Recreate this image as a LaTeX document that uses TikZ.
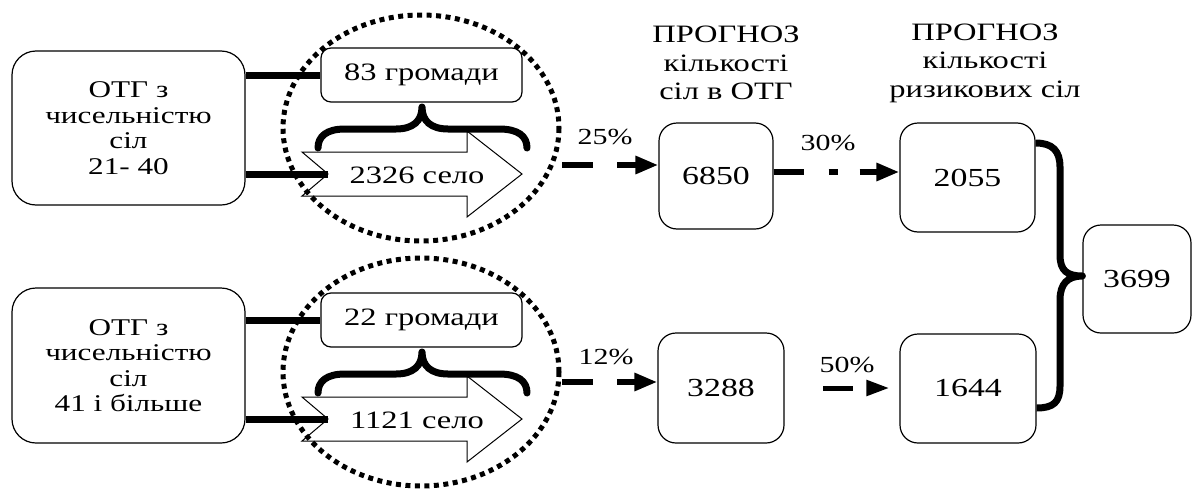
\documentclass[tikz,border=0pt]{standalone}
\usepackage{fontspec}
\setmainfont{Liberation Serif}[FakeStretch=1.3]
\usetikzlibrary{arrows.meta,calc}
\newcommand\myblockarrow[2]{%
  \draw[blockarrow] (302,#2-22) -- (467,#2-22) -- (467,#2-43) -- (522,#2) -- (467,#2+43) -- (467,#2+22) -- (302,#2+22) -- (328,#2) -- cycle;
  \coordinate (#1) at (328,#2);}
\newcommand\mybrace[1]{%
  \draw[conn,line cap=round,line join=round] (318,#1+41) .. controls (318,#1+29) and (327,#1+22) .. (345,#1+22) -- (396,#1+22) .. controls (413,#1+22) and (422,#1+14) .. (422,#1) .. controls (422,#1+14) and (431,#1+22) .. (448,#1+22) -- (499,#1+22) .. controls (518,#1+22) and (527,#1+29) .. (527,#1+41);}
\begin{document}
\begin{tikzpicture}[x=1pt,y=-1pt,
  lbox/.style={draw,line width=1.2pt,rounded corners=24pt,fill=white,minimum width=233pt,minimum height=154pt,inner sep=0pt,align=center,font=\fontsize{24}{25.5}\selectfont},
  gbox/.style={draw,line width=1.2pt,rounded corners=10pt,fill=white,minimum width=201pt,minimum height=54pt,inner sep=0pt,font=\fontsize{25}{27}\selectfont},
  nbox/.style={draw,line width=1.2pt,rounded corners=18pt,fill=white,inner sep=0pt,font=\fontsize{26}{28}\selectfont},
  heading/.style={align=center,font=\fontsize{25}{28.5}\selectfont,inner sep=0pt},
  pct/.style={font=\fontsize{23}{25}\selectfont,inner sep=0pt},
  arrtext/.style={font=\fontsize{25}{27}\selectfont,inner sep=0pt},
  conn/.style={line width=7pt},
  dotring/.style={line width=5pt,dash pattern=on 5pt off 4.5pt},
  blockarrow/.style={draw,line width=1pt,fill=white},
  flow/.style={line width=6pt,-{Triangle[length=23pt,width=17pt]}},
]
\useasboundingbox (0,0) rectangle (1193,490);
\fill[white] (0,0) rectangle (1193,490);

% left boxes
\node[lbox] (ob1) at (128.5,128) {ОТГ з\\чисельністю\\сіл\\21- 40};
\node[lbox,minimum height=155pt] (ob2) at (128.5,365.5) {ОТГ з\\чисельністю\\сіл\\41 і більше};

% groups
\node[gbox] (g1) at (421.5,75) {83 громади};
\node[gbox] (g2) at (421.5,320) {22 громади};

\myblockarrow{n1}{174}
\myblockarrow{n2}{419}
\node[arrtext] (a1) at (417,175) {2326 село};
\node[arrtext] (a2) at (417,420) {1121 село};

\mybrace{107}
\mybrace{352}

\draw[conn] (ob1.east |- g1.west) -- (g1.west);
\draw[conn] (ob1.east |- n1) -- (n1);
\draw[conn] (ob2.east |- g2.west) -- (g2.west);
\draw[conn] (ob2.east |- n2) -- (n2);

\draw[dotring] (421,128) ellipse [x radius=138, y radius=113];
\draw[dotring] (421,372) ellipse [x radius=138, y radius=114];

% headings
\node[heading] (h1) at (726,63) {ПРОГНОЗ\\кількості\\сіл в ОТГ};
\node[heading] (h2) at (985,63) {ПРОГНОЗ\\кількості\\ризикових сіл};

% number boxes
\node[nbox,minimum width=114pt,minimum height=106pt] (b6850) at (716,176) {6850};
\node[nbox,minimum width=135pt,minimum height=109pt] (b2055) at (967.5,177.5) {2055};
\node[nbox,minimum width=126pt,minimum height=110pt] (b3288) at (721,388) {3288};
\node[nbox,minimum width=136pt,minimum height=109pt] (b1644) at (968,388.5) {1644};
\node[nbox,minimum width=108pt,minimum height=108pt] (b3699) at (1137,279) {3699};

% percentages
\node[pct] (p25) at (605,137) {25\%};
\node[pct] (p30) at (828,143) {30\%};
\node[pct] (p12) at (606,357) {12\%};
\node[pct] (p50) at (847,365) {50\%};

% flows
\coordinate (s25) at (562,165);
\draw[flow,dash pattern=on 31pt off 24pt] (s25) -- (b6850.west |- s25);
\coordinate (s30) at ([yshift=4pt]b6850.east);
\draw[flow,dash pattern=on 30pt off 25pt on 9pt off 22pt on 80pt] (s30) -- (b2055.west |- s30);
\coordinate (s12) at (562,382);
\draw[flow,dash pattern=on 31pt off 24pt] (s12) -- (b3288.west |- s12);
\coordinate (s50) at (823,388);
\coordinate (e50) at ([xshift=-10pt]b1644.west |- s50);
\draw[line width=5pt,-{Triangle[length=23pt,width=15pt]},dash pattern=on 30pt off 80pt] (s50) -- (e50);

% joining brace
\coordinate (ra) at ([yshift=34.5pt]b2055.east);
\coordinate (rb) at ([yshift=-19.5pt]b1644.east);
\coordinate (rt) at ([yshift=3pt]b3699.west);
\draw[conn,line join=round] (ra) .. controls +(17,0) and +(0,-16) .. (1060,167) -- (1060,255) .. controls +(0,16) and +(-15,0) .. (rt) .. controls +(-15,0) and +(0,-16) .. (1060,300) -- (1060,386) .. controls +(0,16) and +(17,0) .. (rb);
\end{tikzpicture}
\end{document}
